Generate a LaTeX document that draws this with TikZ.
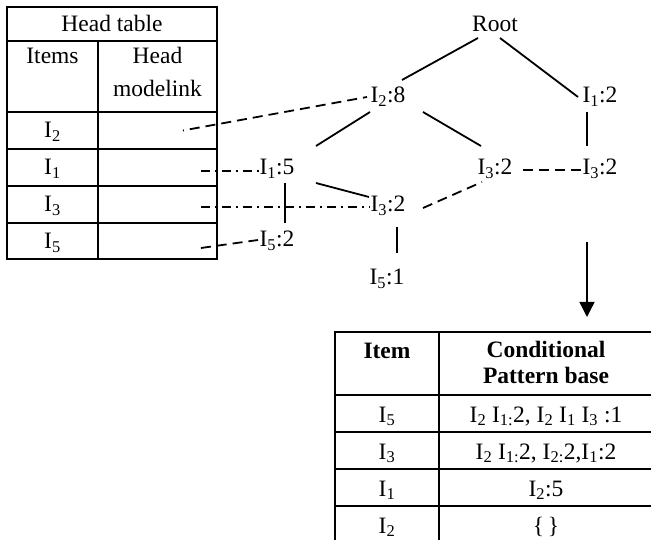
\documentclass[tikz,border=0pt]{standalone}
\usepackage{fontspec}
\setmainfont{Liberation Serif}
\usetikzlibrary{calc,arrows.meta}
\begin{document}
\begin{tikzpicture}[x=1pt,y=-1pt,
  every node/.style={inner sep=0pt, font=\fontsize{23.5}{28}\selectfont},
  txt/.style={anchor=base},
  cell/.style={draw, line width=1.8pt, minimum width=#1},
  edge/.style={line width=1.8pt},
  dsh/.style={line width=1.8pt, dash pattern=on 10pt off 6pt},
  dshdot/.style={line width=1.8pt, dash pattern=on 9pt off 5pt on 2pt off 5pt}]
\clip (0,0) rectangle (651,540);
\fill[white] (0,0) rectangle (651,540);
% ---- Head table ----
\node[cell=210pt, minimum height=34pt] (htitle) at (112,24) {};
\node[cell=91pt, minimum height=71pt] (hitems) at (52.5,76.5) {};
\node[cell=119pt, minimum height=71pt] (hhead) at (157.5,76.5) {};
\node[cell=91pt, minimum height=37pt] (c2) at (52.5,130.5) {};
\node[cell=119pt, minimum height=37pt] (l2) at (157.5,130.5) {};
\node[cell=91pt, minimum height=37pt] (c1) at (52.5,167.5) {};
\node[cell=119pt, minimum height=37pt] (l1) at (157.5,167.5) {};
\node[cell=91pt, minimum height=37pt] (c3) at (52.5,204.5) {};
\node[cell=119pt, minimum height=37pt] (l3) at (157.5,204.5) {};
\node[cell=91pt, minimum height=36pt] (c5) at (52.5,241) {};
\node[cell=119pt, minimum height=36pt] (l5) at (157.5,241) {};
\node[txt] (thtitle) at (112,32) {Head table};
\node[txt] (titems) at (52.5,64) {Items};
\node[txt] (thead) at (157.5,64) {Head};
\node[txt] (tmodel) at (157.5,97) {modelink};
\node[txt] (tc2) at (52.5,138) {I\textsubscript{2}};
\node[txt] (tc1) at (52.5,175) {I\textsubscript{1}};
\node[txt] (tc3) at (52.5,212) {I\textsubscript{3}};
\node[txt] (tc5) at (52.5,249) {I\textsubscript{5}};
% ---- Tree ----
\node[txt] (root) at (495,32) {Root};
\node[txt] (i28) at (388,103) {I\textsubscript{2}:8};
\node[txt] (i12) at (600,103) {I\textsubscript{1}:2};
\node[txt] (i15) at (277,175) {I\textsubscript{1}:5};
\node[txt] (i32m) at (495,175) {I\textsubscript{3}:2};
\node[txt] (i32r) at (600,175) {I\textsubscript{3}:2};
\node[txt] (i32l) at (388,212) {I\textsubscript{3}:2};
\node[txt] (i52) at (277,247) {I\textsubscript{5}:2};
\node[txt] (i51) at (387,285) {I\textsubscript{5}:1};
\draw[edge] ($(root.base)+(-17,6)$) -- ($(i28.base)+(14,-23)$);
\draw[edge] ($(root.base)+(5,6)$) -- ($(i12.base)+(-22,-6)$);
\draw[edge] ($(i28.base)+(-18,9)$) -- ($(i15.base)+(39,-29)$);
\draw[edge] ($(i28.base)+(35,9)$) -- ($(i32m.base)+(-14,-29)$);
\draw[edge] ($(i12.base)+(-13,9)$) -- ($(i32r.base)+(-13,-29)$);
\draw[edge] ($(i15.base)+(39,8)$) -- ($(i32l.base)+(-19,-15)$);
\draw[edge] ($(i15.base)+(8,8)$) -- ($(i52.base)+(8,-24)$);
\draw[edge] ($(i32l.base)+(9,15)$) -- ($(i51.base)+(10,-32)$);
% node links
\draw[dsh, dash phase=9pt] ($(l2.east)+(-35,0)$) -- ($(i28.base)+(-21,-6)$);
\draw[dshdot] ($(l1.east)+(-17,3.5)$) -- ($(i15.base)+(-14,-4)$);
\draw[dshdot] ($(l3.east)+(-17,2.5)$) -- ($(i32l.base)+(-18,-5)$);
\draw[dsh] ($(l5.east)+(-17,7)$) -- ($(i52.base)+(-19,-7)$);
\draw[dsh] ($(i32m.base)+(28,-5)$) -- ($(i32r.base)+(-15,-5)$);
\draw[dsh] ($(i32l.base)+(35,-4)$) -- ($(i32m.base)+(-13,7)$);
% arrow
\coordinate (as) at (587,242);
\coordinate (ae) at (587,317);
\draw[line width=1.3pt, -{Triangle[length=15pt,width=15pt]}] (as) -- (ae);
% ---- Conditional pattern base table ----
\node[cell=104pt, minimum height=63pt] (bitem) at (387,363.5) {};
\node[cell=214pt, minimum height=63pt] (bcpb) at (546,363.5) {};
\node[cell=104pt, minimum height=37pt] (b5) at (387,413.5) {};
\node[cell=214pt, minimum height=37pt] (p5) at (546,413.5) {};
\node[cell=104pt, minimum height=37pt] (b3) at (387,450.5) {};
\node[cell=214pt, minimum height=37pt] (p3) at (546,450.5) {};
\node[cell=104pt, minimum height=37pt] (b1) at (387,487.5) {};
\node[cell=214pt, minimum height=37pt] (p1) at (546,487.5) {};
\node[cell=104pt, minimum height=37pt] (b2) at (387,524.5) {};
\node[cell=214pt, minimum height=37pt] (p2) at (546,524.5) {};
\node[txt] (titem) at (387,358) {\bfseries Item};
\node[txt] (tcond) at (546,357) {\bfseries Conditional};
\node[txt] (tpat) at (546,383) {\bfseries Pattern base};
\node[txt] (tb5) at (387,422) {I\textsubscript{5}};
\node[txt] (tb3) at (387,459) {I\textsubscript{3}};
\node[txt] (tb1) at (387,496) {I\textsubscript{1}};
\node[txt] (tb2) at (387,533) {I\textsubscript{2}};
\node[txt] (tp5) at (546,422) {I\textsubscript{2} I\textsubscript{1:}2, I\textsubscript{2} I\textsubscript{1} I\textsubscript{3} :1};
\node[txt] (tp3) at (546,459) {I\textsubscript{2} I\textsubscript{1:}2, I\textsubscript{2:}2,I\textsubscript{1}:2};
\node[txt] (tp1) at (546,496) {I\textsubscript{2}:5};
\node[txt] (tp2) at (546,533) {\{\,\}};
\end{tikzpicture}
\end{document}
